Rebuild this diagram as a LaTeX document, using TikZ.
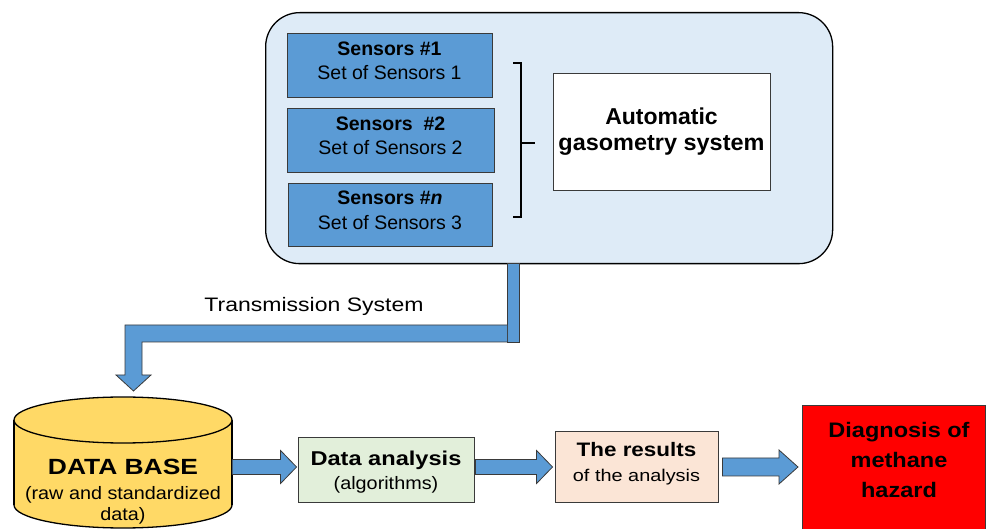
\documentclass[tikz,border=0pt]{standalone}
\usepackage{graphicx}
\usepackage{fontspec}
\setmainfont{Liberation Sans}
\usetikzlibrary{calc}
\definecolor{outerfill}{HTML}{DEEBF7}
\definecolor{sensblue}{HTML}{5B9BD5}
\definecolor{dbyellow}{HTML}{FFD966}
\definecolor{dagreen}{HTML}{E2EFDA}
\definecolor{respeach}{HTML}{FBE5D6}
\definecolor{edgegray}{HTML}{3A3A3A}
\newcommand\hstr[2]{\scalebox{#1}[1]{#2}}
\begin{document}
\begin{tikzpicture}[x=1pt,y=-1pt,
  sensbox/.style={draw=edgegray, line width=0.9pt, fill=sensblue, minimum width=205pt, minimum height=64pt, align=center, inner sep=0pt, text depth=9pt, font=\fontsize{19.5}{24.5}\selectfont},
  plainbox/.style={draw=edgegray, line width=0.9pt, align=center, inner sep=0pt},
  barrow/.style={draw=edgegray, line width=0.8pt, fill=sensblue}
]
\useasboundingbox (0,0) rectangle (989,529);
\coordinate (ay) at (0,467);

% outer system box
\node[draw=black, line width=1.3pt, rounded corners=34pt, fill=outerfill, minimum width=567pt, minimum height=251pt, anchor=north west, inner sep=0pt] (outer) at (265,12) {};

% sensors
\node[sensbox] (s1) at (389.5,65) {\textbf{Sensors \#1}\\Set of Sensors 1};
\node[sensbox, minimum width=207pt] (s2) at (390.5,140) {\textbf{Sensors\ \ \#2}\\Set of Sensors 2};
\node[sensbox, minimum width=204pt, minimum height=63pt] (s3) at (390,214.5) {\textbf{Sensors \#\textit{n}}\\Set of Sensors 3};

% brace
\draw[line width=1.3pt, black] (513,63) -- (521,63) -- (521,217) -- (513,217);
\draw[line width=1.3pt, black] (521,143) -- (535,143);

% automatic gasometry system
\node[plainbox, fill=white, minimum width=217pt, minimum height=117pt, font=\bfseries\fontsize{23}{26}\selectfont] (ags) at (661.5,131.5) {Automatic\\\hstr{1.02}{gasometry system}};

% transmission system
\draw[barrow] (507,263) rectangle (519,342);
\draw[barrow] (507,325) -- (125,325) -- (125,375) -- (116,375) -- (133.5,391) -- (151,375) -- (142,375) -- (142,342) -- (507,342);
\node[anchor=base, inner sep=0pt, font=\fontsize{19.5}{23}\selectfont] (trans) at (314,311.7) {\hstr{1.18}{Transmission System}};

% database cylinder
\draw[black, line width=1.3pt, fill=dbyellow] (123,505) ellipse [x radius=109pt, y radius=23pt];
\fill[dbyellow] (14,420) rectangle (232,505);
\draw[black, line width=1.3pt] (14,420) -- (14,505);
\draw[black, line width=1.3pt] (232,420) -- (232,505);
\draw[black, line width=1.3pt, fill=dbyellow] (123,420) ellipse [x radius=109pt, y radius=23pt];
\node[minimum width=218pt, inner sep=0pt, align=center, font=\fontsize{18}{21}\selectfont] (db) at (123,491.5) {\hstr{1.2}{\bfseries\fontsize{22}{26}\selectfont DATA BASE}\\[4pt]\hstr{1.1}{(raw and standardized}\\\hstr{1.1}{data)}};

% data analysis
\node[plainbox, fill=dagreen, minimum width=176pt, minimum height=65pt, font=\fontsize{18}{24.5}\selectfont] (da) at (386,469.5) {\rule{0pt}{20pt}\hstr{1.18}{\bfseries\fontsize{20}{22}\selectfont Data analysis}\\\hstr{1.1}{(algorithms)}};

% results
\node[plainbox, fill=respeach, minimum width=163pt, minimum height=71pt, text depth=10pt, font=\fontsize{17}{25}\selectfont] (res) at (636.5,466.5) {\hstr{1.15}{\bfseries\fontsize{19.5}{22}\selectfont The results}\\\hstr{1.17}{of the analysis}};

% diagnosis
\node[plainbox, fill=red, minimum width=183pt, minimum height=140pt, anchor=north west] (diag) at (802,405) {};
\node[align=center, inner sep=0pt, font=\bfseries\fontsize{21}{30}\selectfont] (diagtxt) at (899,460) {\hstr{1.12}{Diagnosis of}\\\hstr{1.12}{methane}\\\hstr{1.12}{hazard}};

% block arrows
\draw[barrow] let \p1=(db.east |- ay), \p2=(da.west |- ay) in
  (\x1,\y1+7.5pt) -- (\x2-17pt,\y1+7.5pt) -- (\x2-17pt,\y1+16.5pt) -- (\x2-1pt,\y1) -- (\x2-17pt,\y1-16.5pt) -- (\x2-17pt,\y1-7.5pt) -- (\x1,\y1-7.5pt) -- cycle;
\draw[barrow] let \p1=(da.east |- ay), \p2=(res.west |- ay) in
  (\x1+1pt,\y1+7.5pt) -- (\x2-18pt,\y1+7.5pt) -- (\x2-18pt,\y1+16.5pt) -- (\x2-2pt,\y1) -- (\x2-18pt,\y1-16.5pt) -- (\x2-18pt,\y1-7.5pt) -- (\x1+1pt,\y1-7.5pt) -- cycle;
\draw[barrow] let \p1=(res.east |- ay), \p2=(diag.west |- ay) in
  (\x1+4pt,\y1+9pt) -- (\x2-23pt,\y1+9pt) -- (\x2-23pt,\y1+17pt) -- (\x2-4pt,\y1) -- (\x2-23pt,\y1-17pt) -- (\x2-23pt,\y1-9pt) -- (\x1+4pt,\y1-9pt) -- cycle;
\end{tikzpicture}
\end{document}
